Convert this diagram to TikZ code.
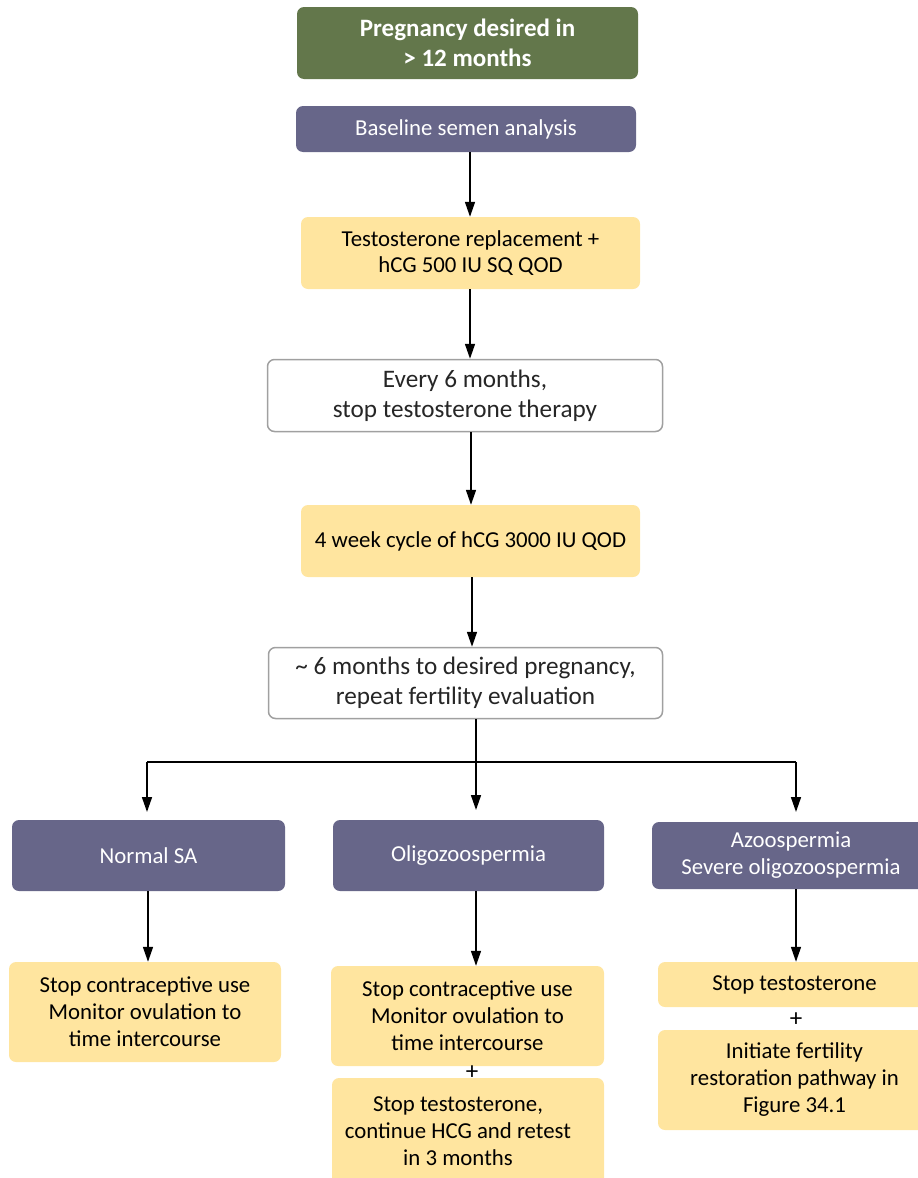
\documentclass[tikz,border=0pt]{standalone}
\usepackage{fontspec}
\setmainfont{Carlito}
\usetikzlibrary{arrows.meta}
\definecolor{grn}{HTML}{63774B}
\definecolor{prp}{HTML}{676689}
\definecolor{ylw}{HTML}{FFE59F}
\definecolor{bgray}{HTML}{A0A0A0}
\tikzset{
  box/.style={rounded corners=7pt, inner sep=0pt, align=center, font=\fontsize{22.8}{26}\selectfont},
  greenbox/.style={box, fill=grn, text=white, font=\bfseries\fontsize{25}{30}\selectfont},
  purplebox/.style={box, fill=prp, text=white},
  yellowbox/.style={box, fill=ylw, text=black},
  whitebox/.style={box, fill=white, draw=bgray, line width=1.5pt, text=black!85, font=\fontsize{25.2}{30}\selectfont},
  condpurple/.style={purplebox, font=\fontsize{22.8}{27}\selectfont},
  condyellow/.style={yellowbox, font=\fontsize{22.8}{27}\selectfont},
  labeltext/.style={inner sep=0pt, align=center, text=black, font=\fontsize{22.8}{27}\selectfont},
  plus/.style={font=\fontsize{25}{25}\selectfont, inner sep=0pt},
  arr/.style={line width=1.6pt, -{Triangle[length=15pt,width=10pt]}},
  ln/.style={line width=1.6pt},
}
\begin{document}
\begin{tikzpicture}[x=1pt,y=-1pt]
\useasboundingbox (0,0) rectangle (918,1178);
\node[greenbox, minimum width=341pt, minimum height=72pt] (g) at (467.5,43) {Pregnancy desired in\\> 12 months};
\node[purplebox, minimum width=340pt, minimum height=46pt] (b) at (466,129) {Baseline semen analysis};
\node[yellowbox, minimum width=339pt, minimum height=72pt] (t) at (470.5,253) {Testosterone replacement +\\hCG 500 IU SQ QOD};
\node[whitebox, minimum width=395pt, minimum height=72pt] (e) at (465,395.5) {Every 6 months,\\stop testosterone therapy};
\node[yellowbox, minimum width=339pt, minimum height=72pt] (c) at (470.5,541) {4 week cycle of hCG 3000 IU QOD};
\node[whitebox, minimum width=394pt, minimum height=71pt] (s) at (465.5,683) {\textasciitilde{} 6 months to desired pregnancy,\\repeat fertility evaluation};

\node[condpurple, minimum width=273pt, minimum height=71pt] (n) at (148.5,855.5) {Normal SA};
\node[condpurple, minimum width=271pt, minimum height=71pt] (o) at (468.5,855.5) {Oligozoospermia};
\node[condpurple, minimum width=278pt, minimum height=67pt] (a) at (791,855.5) {Azoospermia\\Severe oligozoospermia};

\node[condyellow, minimum width=272pt, minimum height=100pt] (n1) at (145,1012) {Stop contraceptive use\\Monitor ovulation to\\time intercourse};
\node[condyellow, minimum width=273pt, minimum height=100pt] (o1) at (467.5,1016) {Stop contraceptive use\\Monitor ovulation to\\time intercourse};
\node[plus] (p1) at (472,1073) {+};
\node[condyellow, minimum width=272pt, minimum height=112pt] (o2) at (468,1134) {};
\node[labeltext] (o2t) at (458,1131) {Stop testosterone,\\continue HCG and retest\\in 3 months};
\node[condyellow, minimum width=273pt, minimum height=45pt] (a1) at (794.5,984.5) {Stop testosterone};
\node[plus] (p2) at (796,1020) {+};
\node[condyellow, minimum width=273pt, minimum height=100pt] (a2) at (794.5,1080) {Initiate fertility\\restoration pathway in\\Figure 34.1};

\draw[arr] (b.south -| 470,0) -- (t.north -| 470,0);
\draw[arr] (t.south -| 470,0) -- (e.north -| 470,0);
\draw[arr] (e.south -| 471,0) -- (c.north -| 471,0);
\draw[arr] (c.south -| 472,0) -- (s.north -| 472,0);
\coordinate (jl) at (147,762);
\coordinate (jr) at (796,762);
\draw[ln] (jl) -- (jr);
\draw[arr] (s.south -| 476,0) -- (476,810);
\draw[arr] (jl) -- (147,812);
\draw[arr] (jr) -- (796,812);
\draw[arr] (n.south -| 148,0) -- (n1.north -| 148,0);
\draw[arr] (o.south -| 476,0) -- (o1.north -| 476,0);
\draw[arr] (a.south -| 796,0) -- (a1.north -| 796,0);
\end{tikzpicture}
\end{document}
